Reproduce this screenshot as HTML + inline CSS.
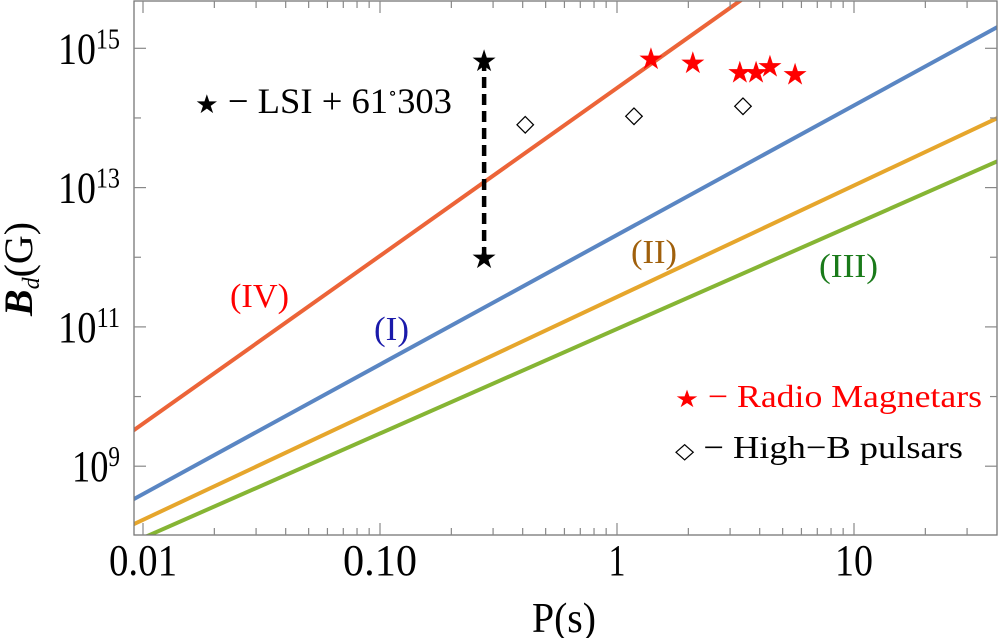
<!DOCTYPE html>
<html><head><meta charset="utf-8"><style>
body{margin:0;background:#fff}
svg{display:block}
text{font-family:"Liberation Serif","DejaVu Serif",serif}
</style></head><body>
<svg id="chart" width="1000" height="638" viewBox="0 0 1000 638" font-family="Liberation Serif, serif">
<defs><clipPath id="clip"><rect x="134" y="1" width="863" height="534"/></clipPath></defs>
<g id="lines" clip-path="url(#clip)"></g>
<g id="marks"></g>
<rect x="134" y="1" width="863" height="534" fill="none" stroke="#777" stroke-width="1.3"/>
<g id="axes"></g>
<text x="532" y="632" font-size="42" textLength="64" lengthAdjust="spacingAndGlyphs">P(s)</text>
<text transform="translate(32,316) rotate(-90)" font-size="40" textLength="94" lengthAdjust="spacingAndGlyphs"><tspan font-style="italic" font-weight="bold">B</tspan><tspan font-style="italic" font-size="24" dy="7">d</tspan><tspan dy="-7">(G)</tspan></text>
<text x="195" y="113" font-size="36" textLength="257" lengthAdjust="spacingAndGlyphs"><tspan font-size="26">★</tspan> − LSI  + 61<tspan font-size="18" dy="-14">∘</tspan><tspan dy="14">303</tspan></text>
<text x="230" y="307" font-size="34" textLength="59" lengthAdjust="spacingAndGlyphs" fill="#f00">(IV)</text>
<text x="374" y="340" font-size="34" textLength="35" lengthAdjust="spacingAndGlyphs" fill="#1a1aaa">(I)</text>
<text x="631" y="263" font-size="34" textLength="46" lengthAdjust="spacingAndGlyphs" fill="#a0600c">(II)</text>
<text x="819" y="277" font-size="34" textLength="59" lengthAdjust="spacingAndGlyphs" fill="#1a7a1a">(III)</text>
<g>
<text x="675" y="407" font-size="32" textLength="307" lengthAdjust="spacingAndGlyphs" fill="#f00"><tspan font-size="24">★</tspan> − Radio Magnetars</text>
<text x="675" y="458" font-size="32" textLength="288" lengthAdjust="spacingAndGlyphs" fill="#000"><tspan font-size="22">◇</tspan> − High−B pulsars</text>
</g>
</svg>
<script>
const xTickVals=[0.01,0.1,1,10];
const xTickLabels=["0.01","0.10","1","10"];
const yTickExps=[9,11,13,15];
const lineNames=["IV","I","II","III"];
const lineSlopes=[2.41,1.86,1.6,1.5];
const lineIntercepts=[14.43,12.32,11.43,10.97];
const lineColors=["#ec6438","#5a86c3","#e6a62c","#86b534"];
const lsiP=[0.275,0.275];
const lsiB=[6.8e14,1e12];
const magP=[1.39,2.09,3.30,3.86,4.42,5.64];
const magB=[7.2e14,6.3e14,4.6e14,4.6e14,5.6e14,4.3e14];
const hbP=[0.41,1.18,3.4];
const hbB=[8.7e13,1.15e14,1.6e14];

const NS="http://www.w3.org/2000/svg";
const X=p=>617+237*Math.log10(p);
const Y=b=>48.3+69.65*(15-Math.log10(b));
function mk(tag,parent,attrs){const e=document.createElementNS(NS,tag);for(const k in attrs)e.setAttribute(k,attrs[k]);parent.appendChild(e);return e;}
const axes=document.getElementById('axes'),lines=document.getElementById('lines'),marks=document.getElementById('marks');
for(let d=-3;d<=1;d++){for(let m=1;m<=9;m++){const v=m*Math.pow(10,d);const x=X(v);if(x<135||x>996)continue;const L=m===1?12:7;
const t=mk('line',axes,{x1:x,x2:x,y1:535,y2:535-L,stroke:'#888','stroke-width':1.2});


const t2=mk('line',axes,{x1:x,x2:x,y1:1,y2:1+L,stroke:'#888','stroke-width':1.2});

}}
const xLabW={"0.01":68,"0.10":74,"1":17,"10":38};
xTickVals.forEach((v,i)=>{const s=xTickLabels[i];const w=xLabW[s]||17*s.length;
const t=mk('text',axes,{x:X(v)-w/2,y:575,'font-size':44,textLength:w,lengthAdjust:'spacingAndGlyphs'});t.textContent=s;

});
for(let e=8;e<=16;e++){const y=Y(Math.pow(10,e));if(y<2||y>534)continue;const L=e%2===1?12:7;
const t=mk('line',axes,{x1:134,x2:134+L,y1:y,y2:y,stroke:'#888','stroke-width':1.2});


const t2=mk('line',axes,{x1:997,x2:997-L,y1:y,y2:y,stroke:'#888','stroke-width':1.2});

}
yTickExps.forEach(e=>{const y=Y(Math.pow(10,e));const s=String(e);const w=34+14*s.length;
const t=mk('text',axes,{x:120-w,y:y+15,'font-size':44,textLength:w,lengthAdjust:'spacingAndGlyphs'});
const a=document.createElementNS(NS,'tspan');a.textContent='10';t.appendChild(a);
const b=document.createElementNS(NS,'tspan');b.setAttribute('font-size','28');b.setAttribute('dy','-15');b.textContent=s;t.appendChild(b);

});
lineNames.forEach((n,i)=>{const p0=0.008,p1=45;
const b0=Math.pow(10,lineIntercepts[i]+lineSlopes[i]*Math.log10(p0)),b1=Math.pow(10,lineIntercepts[i]+lineSlopes[i]*Math.log10(p1));
const l=mk('line',lines,{x1:X(p0),y1:Y(b0),x2:X(p1),y2:Y(b1),stroke:lineColors[i],'stroke-width':4});

});
const dl=mk('line',marks,{x1:X(lsiP[0]),y1:Y(lsiB[0]),x2:X(lsiP[1]),y2:Y(lsiB[1]),stroke:'#000','stroke-width':4.5,'stroke-dasharray':'11,6'});


function glyph(x,y,ch,color,size,name){const t=mk('text',marks,{x:x,y:y+size*0.36,'font-size':size,'text-anchor':'middle',fill:color});t.textContent=ch;

}
lsiP.forEach((p,i)=>glyph(X(p),Y(lsiB[i]),'★','#000',30,'lsi-star'));
magP.forEach((p,i)=>glyph(X(p),Y(magB[i]),'★','#f00',30,'magnetar-star'));
hbP.forEach((p,i)=>glyph(X(p),Y(hbB[i]),'◇','#000',24,'high-b-pulsar'));
</script>
</body></html>
